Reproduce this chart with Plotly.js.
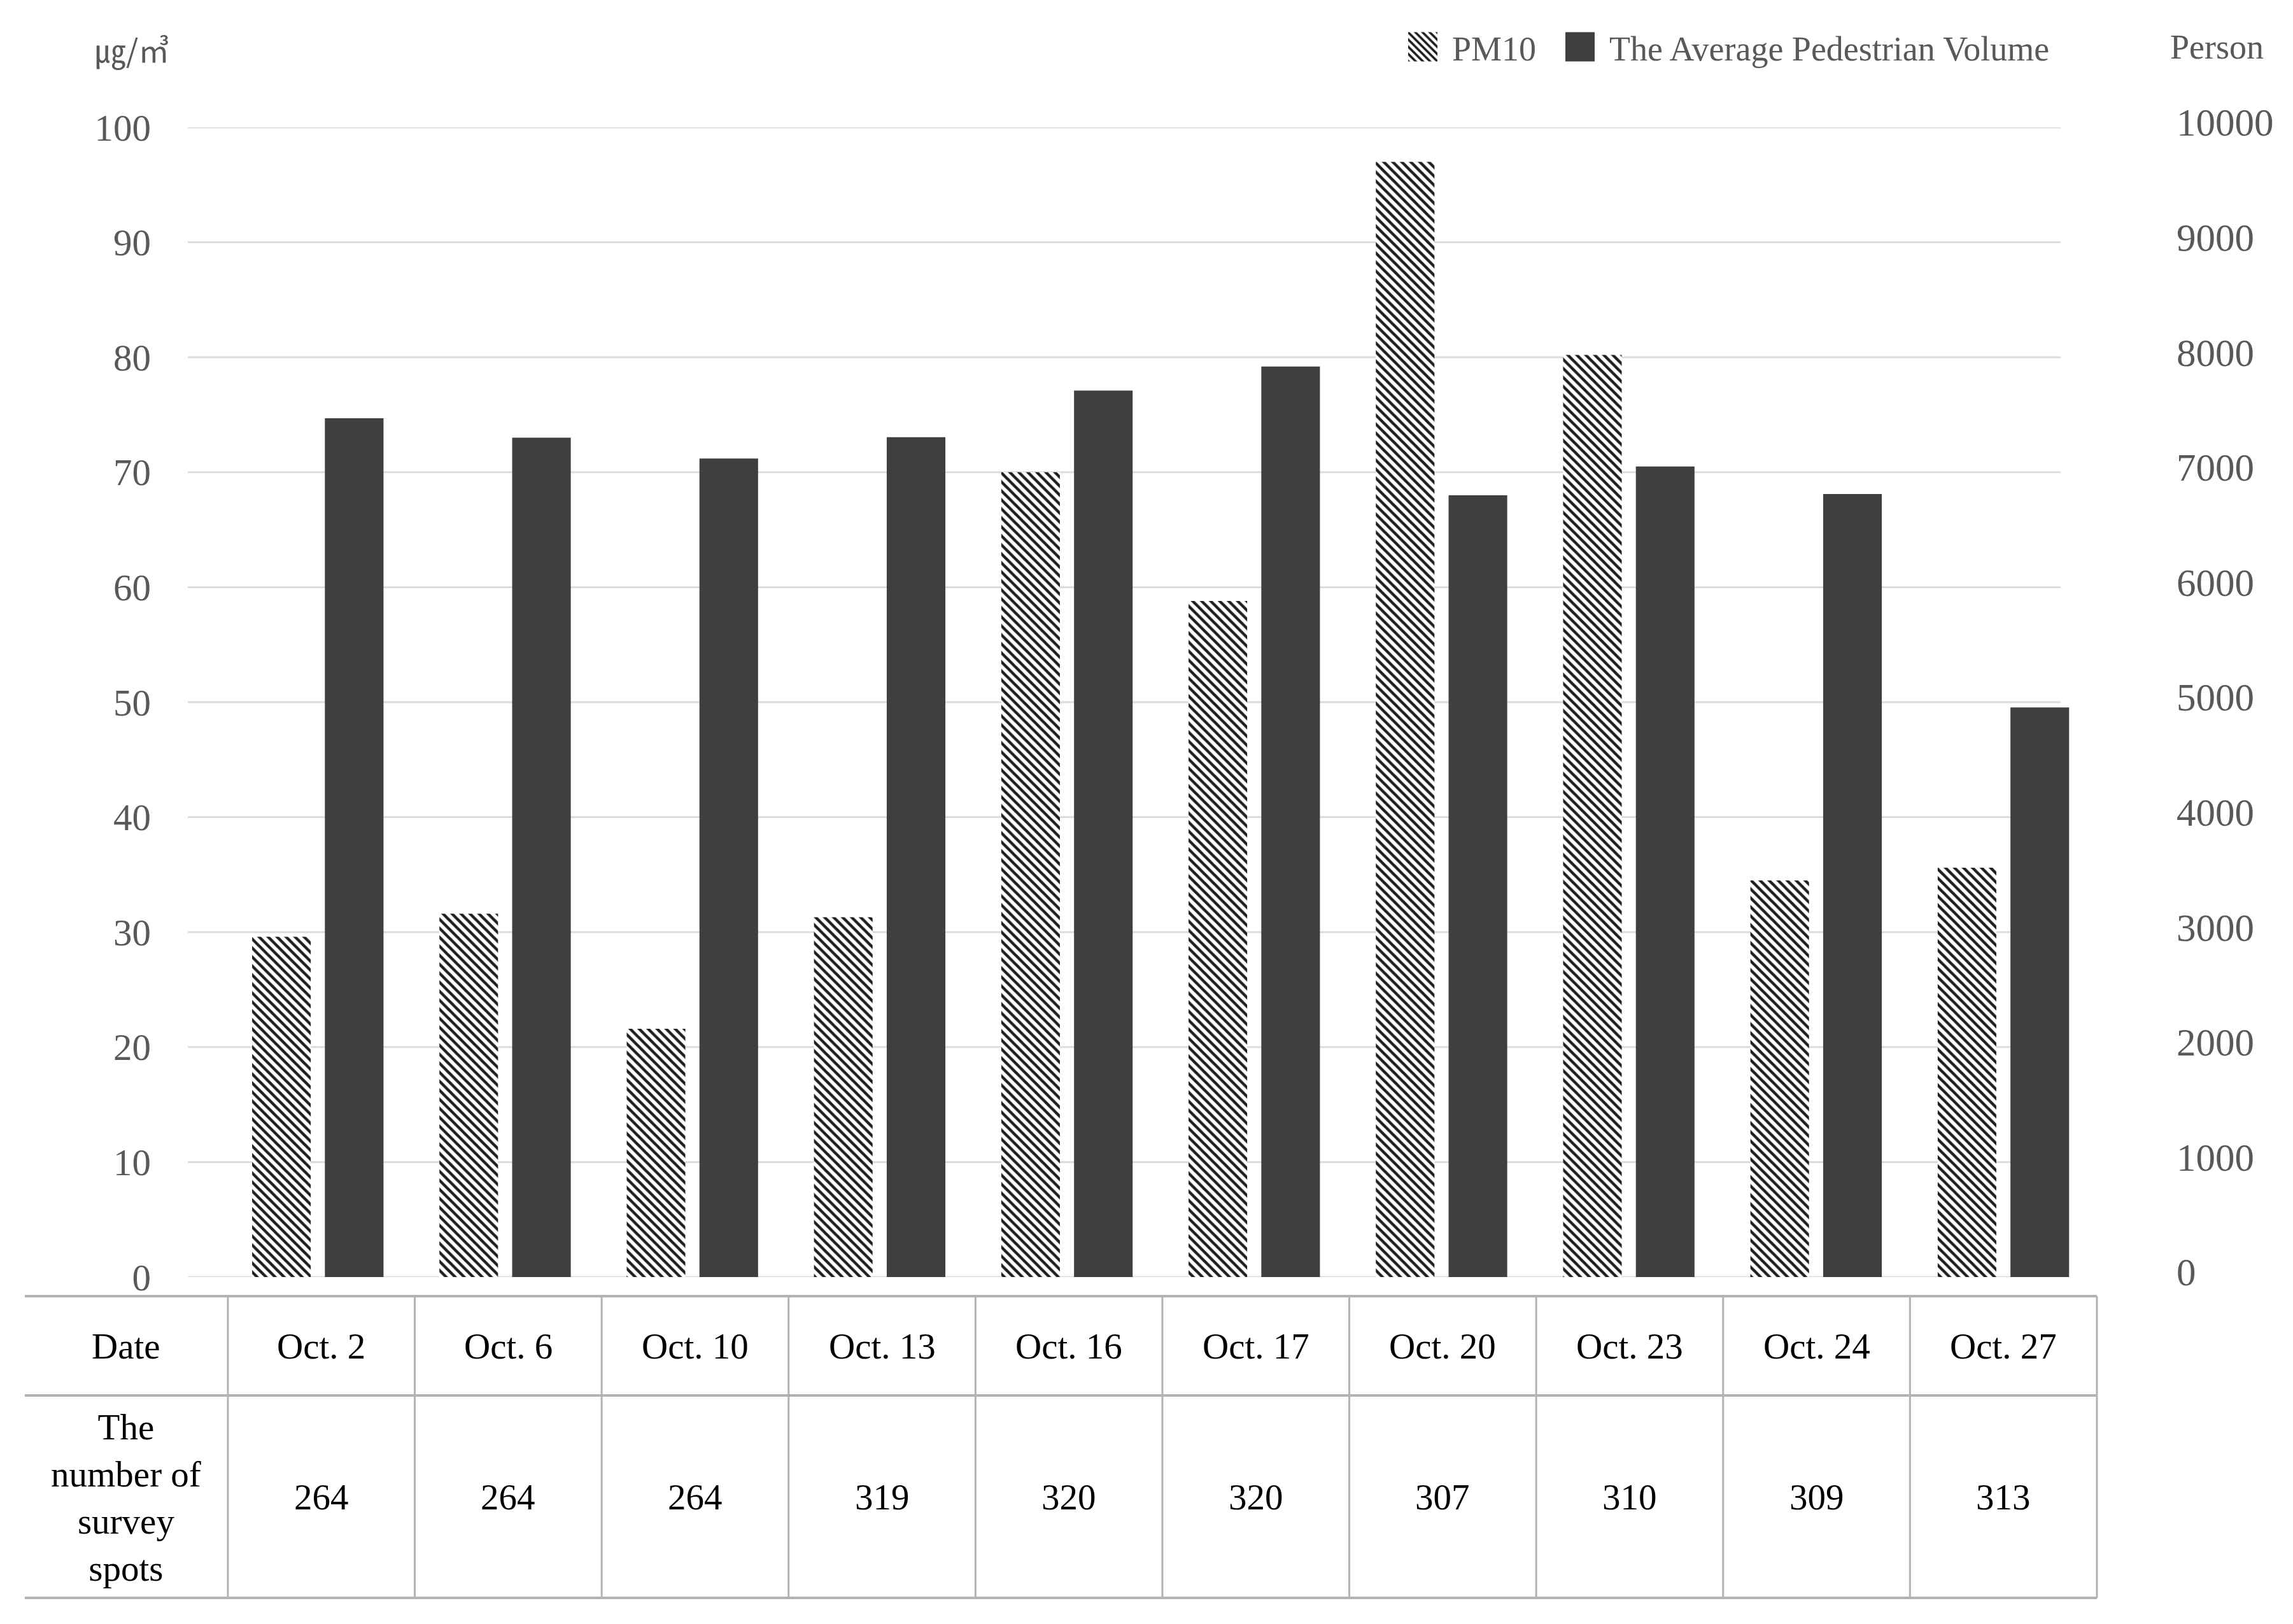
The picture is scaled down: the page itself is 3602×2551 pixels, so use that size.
<!DOCTYPE html>
<html><head><meta charset="utf-8">
<script src="https://cdn.plot.ly/plotly-3.0.1.min.js"></script>
<style>html,body{margin:0;padding:0;background:#fff;} #chart{width:3602px;height:2551px;}</style>
</head><body><div id="chart"></div>
<script>
// ---- data ----
const dates = ["Oct. 2","Oct. 6","Oct. 10","Oct. 13","Oct. 16","Oct. 17","Oct. 20","Oct. 23","Oct. 24","Oct. 27"];
const pm10 = [29.6, 31.6, 21.6, 31.3, 70.0, 58.8, 97.0, 80.2, 34.5, 35.6];
const pedestrianVolume = [7470, 7300, 7120, 7305, 7710, 7920, 6800, 7050, 6810, 4955];
const surveySpots = [264, 264, 264, 319, 320, 320, 307, 310, 309, 313];
const seriesNames = ["PM10", "The Average Pedestrian Volume"];
const leftTicks = [0, 10, 20, 30, 40, 50, 60, 70, 80, 90, 100];
const rowHeaders = ["Date", "The<br>number of<br>survey<br>spots"];
const leftUnit = "㎍/㎥";
const rightUnit = "Person";

// ---- layout geometry (pixels) ----
const W = 3602, H = 2551;
const L = 295, gridRight = 3237, R = 3275, T = 200, B = 2006;
const n = dates.length;
const catW = (gridRight - L) / n;
const xRange = [-0.5, -0.5 + (R - L) / catW];
const px = x => (x - L) / (R - L);
const py = y => (B - y) / (B - T);
const serif = "Liberation Serif, 'Times New Roman', serif";
const grey = "#595959";

const tableTop = 2036, tableMid = 2192, tableBot = 2510;
const tableLeft = 39, colOffset = -0.286, colStep = 293.6;
const catPx = k => L + (k + 0.5) * catW;
const firstLine = catPx(0) + colOffset * catW;
const colLinePx = k => firstLine + k * colStep;
const colCentrePx = k => firstLine + (k + 0.5) * colStep;

const shapes = [];
// horizontal gridlines (left axis ticks), ending where the reference's grid ends
leftTicks.forEach(v => {
  shapes.push({type: "line", layer: "below", xref: "paper", yref: "y",
    x0: 0, x1: px(gridRight), y0: v, y1: v, line: {color: "#dcdcdc", width: 3}});
});
[tableTop, tableMid, tableBot].forEach(y => {
  shapes.push({type: "line", xref: "paper", yref: "paper",
    x0: px(tableLeft), x1: px(colLinePx(n)), y0: py(y), y1: py(y),
    line: {color: "#b3b3b3", width: 4}});
});
for (let k = 0; k <= n; k++) {
  shapes.push({type: "line", xref: "paper", yref: "paper",
    x0: px(colLinePx(k)), x1: px(colLinePx(k)), y0: py(tableTop), y1: py(tableBot),
    line: {color: "#b3b3b3", width: 3}});
}

const annotations = [];
const cellFont = {family: serif, size: 57, color: "#000"};
const midRow1 = (tableTop + tableMid) / 2, midRow2 = (tableMid + tableBot) / 2;
const headerX = (tableLeft + firstLine) / 2;
annotations.push({xref: "paper", yref: "paper", x: px(headerX), y: py(midRow1), text: rowHeaders[0],
  showarrow: false, xanchor: "center", yanchor: "middle", font: cellFont});
annotations.push({xref: "paper", yref: "paper", x: px(headerX), y: py(midRow2 + 1), text: rowHeaders[1],
  showarrow: false, xanchor: "center", yanchor: "middle", font: cellFont});
dates.forEach((d, i) => {
  annotations.push({xref: "paper", yref: "paper", x: px(colCentrePx(i)), y: py(midRow1), text: d,
    showarrow: false, xanchor: "center", yanchor: "middle", font: cellFont});
  annotations.push({xref: "paper", yref: "paper", x: px(colCentrePx(i)), y: py(midRow2), text: String(surveySpots[i]),
    showarrow: false, xanchor: "center", yanchor: "middle", font: cellFont});
});
annotations.push({xref: "paper", yref: "paper", x: px(207), y: py(76), text: leftUnit, showarrow: false,
  xanchor: "center", yanchor: "middle", font: {family: "Noto Sans CJK KR", size: 49, color: grey}});
annotations.push({xref: "paper", yref: "paper", x: px(3482), y: py(74), text: rightUnit, showarrow: false,
  xanchor: "center", yanchor: "middle", font: {family: serif, size: 54, color: grey}});

const data = [
  {type: "bar", name: seriesNames[0], x: dates, y: pm10, yaxis: "y",
   width: 0.313, offset: -0.1565, legendwidth: 150,
   marker: {color: "#ffffff", line: {width: 0},
     pattern: {shape: "\\", size: 10, solidity: 0.45, fgcolor: "#1e1e1e", bgcolor: "#ffffff"}}},
  {type: "bar", name: seriesNames[1], x: dates, y: pedestrianVolume, yaxis: "y2",
   width: 0.313, offset: 0.232,
   marker: {color: "#3f3f3f", line: {width: 0}}}
];

const layout = {
  width: W, height: H,
  margin: {l: L, r: W - R, t: T, b: H - B, pad: 0},
  paper_bgcolor: "#fff", plot_bgcolor: "rgba(0,0,0,0)",
  barmode: "overlay",
  showlegend: true,
  legend: {orientation: "h", x: px(2189), xanchor: "left", y: py(74), yanchor: "middle",
    font: {family: serif, size: 54, color: grey}, itemwidth: 82, traceorder: "normal",
    bgcolor: "rgba(0,0,0,0)"},
  xaxis: {type: "category", categoryorder: "array", categoryarray: dates, range: xRange,
    showticklabels: false, showgrid: false, zeroline: false, showline: false, ticks: "", fixedrange: true},
  yaxis: {range: [0, 100], tickvals: leftTicks, showgrid: false,
    zeroline: false, showline: false, ticks: "",
    tickfont: {family: serif, size: 59, color: grey}, ticklabelstandoff: 57},
  yaxis2: {range: [0, 10000], dtick: 1000, tick0: 0, overlaying: "y", side: "right", showgrid: false,
    zeroline: false, showline: false, ticks: "", tickfont: {family: serif, size: 61, color: grey},
    tickformat: "d", ticklabelstandoff: 3418 - R, ticklabelshift: -8},
  shapes: shapes,
  annotations: annotations
};

const gd = document.getElementById("chart");
Plotly.newPlot(gd, data, layout, {displayModeBar: false, staticPlot: true}).then(() => {
  gd.querySelectorAll(".legendpoints path").forEach(p => p.setAttribute("d", "M23,23H-23V-23H23Z"));
});
</script>
</body></html>
